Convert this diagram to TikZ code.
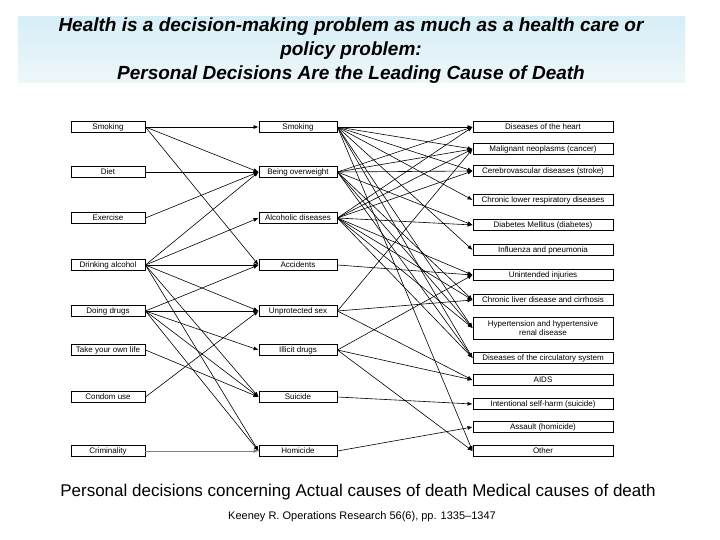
\documentclass[tikz,border=0pt]{standalone}
\usepackage{fontspec}
\setmainfont{Liberation Sans}
\usetikzlibrary{arrows.meta}
\begin{document}
\begin{tikzpicture}[x=1pt,y=-1pt,
  bx/.style={draw,line width=0.9pt,minimum height=11pt,inner sep=0pt,text height=5.8pt,text depth=1.6pt,font=\fontsize{8}{9}\selectfont,fill=white},
  lb/.style={bx,minimum width=74pt},
  mb/.style={bx,minimum width=78pt},
  rb/.style={bx,minimum width=140pt},
  ar/.style={-{Latex[length=5pt,width=4pt]},line width=0.6pt}]
\useasboundingbox (0,0) rectangle (720,540);
\shade[top color={rgb,255:red,214;green,238;blue,246},bottom color={rgb,255:red,238;green,247;blue,250}] (18,17) rectangle (685,83);
\node[font=\bfseries\itshape\fontsize{19}{24}\selectfont,align=center] (title) at (351,51)
 {Health is a decision-making problem as much as a health care or\\policy problem:\\Personal Decisions Are the Leading Cause of Death};
% left
\node[lb] (l1) at (108,127) {Smoking};
\node[lb] (l2) at (108,172) {Diet};
\node[lb] (l3) at (108,218) {Exercise};
\node[lb] (l4) at (108,265) {Drinking alcohol};
\node[lb] (l5) at (108,311) {Doing drugs};
\node[lb] (l6) at (108,350) {Take your own life};
\node[lb] (l7) at (108,397) {Condom use};
\node[lb] (l8) at (108,451) {Criminality};
% middle
\node[mb] (m1) at (298,127) {Smoking};
\node[mb] (m2) at (298,172) {Being overweight};
\node[mb] (m3) at (298,218) {Alcoholic diseases};
\node[mb] (m4) at (298,265) {Accidents};
\node[mb] (m5) at (298,311) {Unprotected sex};
\node[mb] (m6) at (298,350) {Illicit drugs};
\node[mb] (m7) at (298,397) {Suicide};
\node[mb] (m8) at (298,451) {Homicide};
% right
\node[rb] (r1) at (543,127) {Diseases of the heart};
\node[rb] (r2) at (543,149) {Malignant neoplasms (cancer)};
\node[rb] (r3) at (543,171) {Cerebrovascular diseases (stroke)};
\node[rb] (r4) at (543,200) {Chronic lower respiratory diseases};
\node[rb] (r5) at (543,225) {Diabetes Mellitus (diabetes)};
\node[rb] (r6) at (543,250) {Influenza and pneumonia};
\node[rb] (r7) at (543,275) {Unintended injuries};
\node[rb] (r8) at (543,300) {Chronic liver disease and cirrhosis};
\node[rb,minimum height=22pt,text height=,text depth=,align=center] (r9) at (543,328) {Hypertension and hypertensive\\renal disease};
\node[rb] (r10) at (543,358) {Diseases of the circulatory system};
\node[rb] (r11) at (543,380) {AIDS};
\node[rb] (r12) at (543,404) {Intentional self-harm (suicide)};
\node[rb] (r13) at (543,427) {Assault (homicide)};
\node[rb] (r14) at (543,451) {Other};
% left -> middle
\foreach \a/\b in {l1/m1,l1/m2,l1/m4,l2/m2,l3/m2,l4/m2,l4/m3,l4/m4,l4/m5,l4/m7,l4/m8,
  l5/m4,l5/m5,l5/m6,l5/m7,l5/m8,l6/m7,l7/m5}
  \draw[ar] (\a.east) -- (\b.west);
\draw[ar,gray] (l8.east) -- (m8.west);
% middle -> right
\foreach \a/\b in {m1/r1,m1/r2,m1/r3,m1/r4,m1/r6,m1/r9,m1/r10,m1/r14,
  m2/r1,m2/r2,m2/r3,m2/r5,m2/r9,m2/r10,m2/r8,
  m3/r1,m3/r2,m3/r3,m3/r5,m3/r7,m3/r8,m3/r9,m3/r10,
  m4/r7,m5/r2,m5/r8,m5/r11,m6/r7,m6/r11,m6/r14,m7/r12,m8/r13}
  \draw[ar] (\a.east) -- (\b.west);
\node[font=\fontsize{17}{19}\selectfont] (foot) at (358,492) {Personal decisions concerning Actual causes of death Medical causes of death};
\node[font=\fontsize{11}{13}\selectfont] (cite) at (362,517) {Keeney R. Operations Research 56(6), pp. 1335--1347};
\end{tikzpicture}
\end{document}
